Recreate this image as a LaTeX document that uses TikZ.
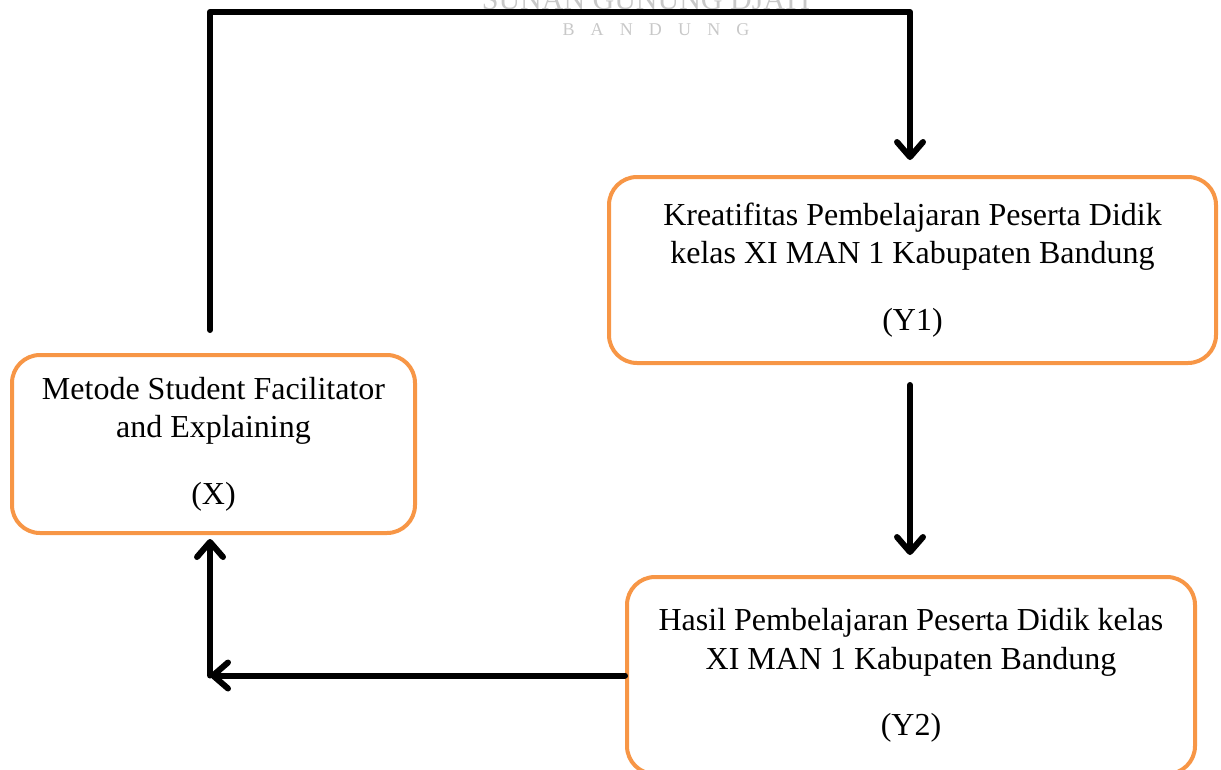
\documentclass[tikz,border=0pt]{standalone}
\usepackage{fontspec}
\setmainfont{Liberation Serif}
\usetikzlibrary{arrows.meta}
\definecolor{boxorange}{RGB}{247,150,70}
\definecolor{wmgray}{RGB}{200,200,200}
\begin{document}
\begin{tikzpicture}[x=1pt,y=-1pt,
  box/.style={draw=boxorange,line width=4pt,rounded corners=28pt,align=center,inner sep=0pt,font=\fontsize{32}{38.5}\selectfont},
  conn/.style={line width=6pt,line cap=round,line join=round,-{Straight Barb[length=15pt,width=26pt,round]}},
  wm/.style={text=wmgray,inner sep=0pt}]
\useasboundingbox (0,0) rectangle (1221,769);
% watermark
\node[wm,anchor=base,font=\fontsize{30}{30}\selectfont] (wm1) at (646,9) {SUNAN GUNUNG DJATI};
\node[wm,anchor=base,font=\fontsize{18}{18}\selectfont] (wm2) at (656,35) {\makebox[187pt][s]{B\hfil A\hfil N\hfil D\hfil U\hfil N\hfil G}};
% boxes
\node[box,minimum width=403pt,minimum height=178pt] (X) at (213.5,444) {Metode Student Facilitator\\and Explaining\\[28pt](X)};
\node[box,minimum width=607pt,minimum height=186pt] (Y1) at (912.5,270) {Kreatifitas Pembelajaran Peserta Didik\\kelas XI MAN 1 Kabupaten Bandung\\[28pt](Y1)};
\node[box,minimum width=568pt,minimum height=197pt] (Y2) at (911,675.5) {Hasil Pembelajaran Peserta Didik kelas\\XI MAN 1 Kabupaten Bandung\\[28pt](Y2)};
% coordinates
\coordinate (tl) at (210,12);
\coordinate (tr) at (910,12);
\coordinate (bl) at (210,675.5);
% connectors
\draw[conn] ([xshift=-3.5pt,yshift=23pt]X.north) -- (tl) -- (tr) -- ([xshift=-2.5pt,yshift=15pt]Y1.north);
\draw[conn] ([xshift=-2.5pt,yshift=-20pt]Y1.south) -- ([xshift=-1pt,yshift=20pt]Y2.north);
\draw[conn] (Y2.west) -- (bl);
\draw[conn] (bl) -- ([xshift=-3.5pt,yshift=-4pt]X.south);
\end{tikzpicture}
\end{document}
